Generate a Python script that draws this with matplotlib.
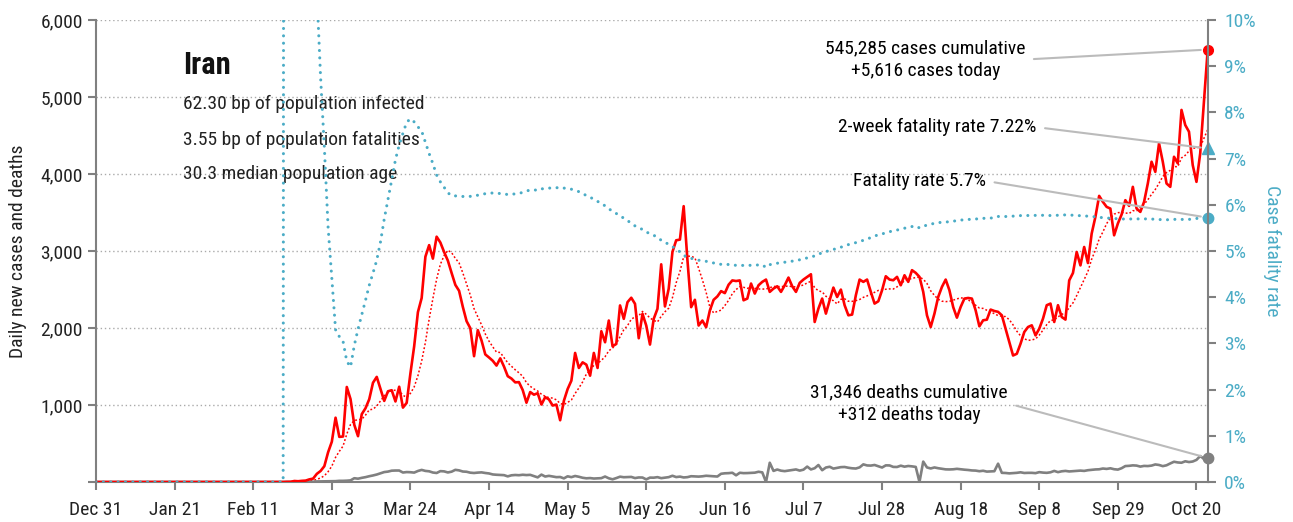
import numpy as np
import pandas as pd
import matplotlib
matplotlib.use("Agg")
import matplotlib.pyplot as plt
from matplotlib import font_manager

# daily values from Dec 31 2019 to Oct 23 2020
cases = [0] * 51 + [
    2, 3, 13, 10, 15, 18, 34, 44, 106, 143,
    205, 385, 523, 835, 586, 591, 1234, 1076, 743, 595,
    881, 958, 1075, 1289, 1365, 1209, 1053, 1178, 1192, 1046,
    1237, 966, 1028, 1411, 1762, 2206, 2389, 2926, 3076, 2901,
    3186, 3110, 2987, 2875, 2715, 2560, 2483, 2274, 2089, 1997,
    1634, 1972, 1837, 1657, 1617, 1574, 1512, 1606, 1499, 1374,
    1343, 1294, 1297, 1194, 1030, 1168, 1134, 1153, 1006, 1102,
    1073, 993, 1006, 802, 1055, 1207, 1316, 1676, 1481, 1554,
    1524, 1381, 1676, 1481, 1958, 1815, 2097, 1763, 1793, 2293,
    2119, 2336, 2393, 2314, 1867, 2184, 2032, 1785, 2119, 2249,
    2827, 2280, 2510, 2987, 3139, 3148, 3582, 2886, 2271, 2366,
    2032, 2097, 2010, 2228, 2366, 2410, 2479, 2453, 2562, 2618,
    2610, 2618, 2360, 2382, 2577, 2447, 2555, 2599, 2629, 2469,
    2512, 2542, 2469, 2555, 2655, 2542, 2469, 2586, 2629, 2664,
    2698, 2078, 2252, 2382, 2187, 2360, 2525, 2403, 2499, 2295,
    2165, 2174, 2425, 2629, 2599, 2629, 2469, 2317, 2347, 2490,
    2672, 2629, 2620, 2664, 2555, 2685, 2599, 2751, 2716, 2664,
    2469, 2165, 2013, 2187, 2403, 2534, 2629, 2490, 2273, 2134,
    2273, 2382, 2390, 2382, 2230, 2022, 2100, 2108, 2239, 2221,
    2210, 2165, 1991, 1817, 1643, 1665, 1796, 1948, 2013, 2035,
    1904, 1991, 2122, 2296, 2317, 2078, 2296, 2143, 2109, 2618,
    2714, 2987, 2813, 3052, 2844, 3226, 3443, 3716, 3638, 3573,
    3551, 3204, 3357, 3474, 3660, 3586, 3833, 3551, 3508, 3638,
    3877, 4159, 4028, 4398, 4159, 3877, 3833, 4224, 4138, 4832,
    4636, 4549, 4115, 3898, 4268, 4950, 5616,
]
deaths = [0] * 51 + [
    2, 0, 2, 1, 3, 4, 4, 3, 7, 8,
    9, 11, 12, 11, 15, 15, 17, 21, 49, 43,
    54, 63, 75, 85, 97, 113, 129, 135, 147, 149,
    149, 123, 129, 127, 122, 143, 157, 144, 139, 123,
    117, 141, 138, 124, 134, 158, 151, 136, 133, 121,
    117, 122, 125, 117, 111, 98, 94, 92, 89, 73,
    87, 91, 88, 94, 90, 93, 76, 60, 96, 71,
    80, 71, 63, 65, 47, 74, 63, 78, 68, 55,
    48, 51, 45, 48, 50, 71, 48, 35, 51, 69,
    62, 64, 66, 51, 59, 58, 34, 57, 56, 63,
    50, 57, 63, 81, 64, 70, 59, 63, 75, 72,
    70, 74, 81, 78, 75, 71, 107, 113, 115, 120,
    87, 120, 115, 116, 119, 121, 133, 125, 0, 250,
    144, 162, 147, 141, 148, 154, 163, 148, 160, 200,
    163, 179, 221, 153, 188, 198, 174, 183, 193, 195,
    185, 178, 175, 190, 229, 215, 213, 221, 205, 188,
    216, 215, 196, 195, 212, 199, 208, 203, 196, 0,
    265, 189, 176, 189, 179, 171, 164, 163, 165, 171,
    165, 160, 156, 150, 148, 140, 146, 135, 138, 140,
    238, 119, 117, 112, 115, 119, 126, 117, 119, 119,
    115, 128, 122, 119, 126, 144, 128, 139, 144, 137,
    141, 146, 148, 144, 153, 158, 163, 165, 175, 170,
    178, 166, 161, 179, 207, 210, 216, 213, 200, 209,
    207, 213, 228, 221, 206, 217, 241, 263, 254, 250,
    269, 259, 266, 287, 337, 300, 312,
]
two_week_rate = 7.22
dates = pd.date_range("2019-12-31", periods=len(cases), freq="D")

blue = "#4bacc6"
grey = "#808080"

avail = {f.name for f in font_manager.fontManager.ttflist}
fam = "DejaVu Sans"
for f in ["Roboto Condensed", "Liberation Sans Narrow"]:
    if f in avail:
        fam = f
        break
plt.rcParams["font.family"] = fam
plt.rcParams["font.size"] = 14

s_cases = pd.Series(cases, index=dates, dtype=float)
s_deaths = pd.Series(deaths, index=dates, dtype=float)
avg7 = s_cases.rolling(7, min_periods=1).mean()
cum_c = s_cases.cumsum()
cum_d = s_deaths.cumsum()
cfr = (cum_d / cum_c.replace(0, np.nan) * 100).fillna(0)

fig = plt.figure(figsize=(12.93, 5.22), dpi=100)
ax = fig.add_axes([0.07425, 0.07663, 0.85978, 0.88506])
ax2 = ax.twinx()

ax.plot(dates, avg7, color="red", lw=1.1, ls=(0, (1.2, 1.4)), zorder=3)
ax.plot(dates, s_deaths, color=grey, lw=1.9, zorder=3)
ax.plot(dates, s_cases, color="red", lw=1.9, zorder=4)
ax.plot(dates[-1], cases[-1], "o", color="red", ms=7, clip_on=False, zorder=5)
ax.plot(dates[-1], deaths[-1], "o", color=grey, ms=7.5, clip_on=False, zorder=5)

ax2.plot(dates, cfr, color=blue, lw=2.2, ls=(0, (0.01, 2.4)),
         dash_capstyle="round")
ax2.plot(dates[-1], cfr.iloc[-1], "o", color=blue, ms=7.5, clip_on=False)
ax2.plot(dates[-1], two_week_rate, "^", color=blue, ms=8.5, clip_on=False)

ax.set_xlim(dates[0], dates[-1])
ax.set_ylim(0, 6000)
ax2.set_ylim(0, 10)

ax.set_yticks(range(0, 6001, 1000))
ax.set_yticklabels([""] + [f"{v:,}" for v in range(1000, 6001, 1000)])
ax.yaxis.grid(True, color="#aaaaaa", ls=(0, (1, 2)), lw=1)
ax.set_axisbelow(True)

ticks = pd.date_range("2019-12-31", dates[-1], freq="21D")
ax.set_xticks(ticks)
ax.set_xticklabels([f"{d:%b} {d.day}" for d in ticks])

ax2.set_yticks(range(0, 11))
ax2.set_yticklabels([f"{v}%" for v in range(0, 11)])

for a in (ax, ax2):
    a.spines["top"].set_visible(False)
ax2.spines["left"].set_visible(False)
ax2.spines["bottom"].set_visible(False)
for sp in ("left", "bottom"):
    ax.spines[sp].set_color(grey)
    ax.spines[sp].set_linewidth(1.5)
ax.spines["right"].set_visible(False)
ax2.spines["right"].set_color(grey)
ax2.spines["right"].set_linewidth(1.5)

ax.tick_params(axis="both", color=grey, width=1.5, length=6, labelcolor="#222222")
ax.tick_params(axis="x", pad=8)
ax2.tick_params(axis="y", color=grey, width=1.5, length=6, labelcolor=blue, pad=6)

ax.set_ylabel("Daily new cases and deaths", labelpad=10, color="#222222")
ax2.set_ylabel("Case fatality rate", rotation=270, color=blue, labelpad=18)

# info block
ax.text(0.078, 0.903, "Iran", transform=ax.transAxes, fontsize=22,
        fontweight="bold", va="center", color="#111111")
info = ["62.30 bp of population infected",
        "3.55 bp of population fatalities",
        "30.3 median population age"]
for t, yy in zip(info, [0.818, 0.740, 0.667]):
    ax.text(0.078, yy, t, transform=ax.transAxes, va="center", color="#222222")

line = dict(arrowstyle="-", color="#bbbbbb", lw=1.5, shrinkA=4, shrinkB=5)
ax.annotate("545,285 cases cumulative\n+5,616 cases today",
            xy=(dates[-1], cases[-1]), xytext=(0.746, 0.9145),
            textcoords="axes fraction", ha="center", va="center",
            linespacing=1.35, arrowprops=dict(line, relpos=(1, 0.5)))
ax2.annotate("2-week fatality rate 7.22%",
             xy=(dates[-1], two_week_rate), xytext=(0.757, 0.768),
             textcoords="axes fraction", ha="center", va="center",
             arrowprops=dict(line, relpos=(1, 0.5)))
ax2.annotate("Fatality rate 5.7%",
             xy=(dates[-1], cfr.iloc[-1]), xytext=(0.741, 0.6515),
             textcoords="axes fraction", ha="center", va="center",
             arrowprops=dict(line, relpos=(1, 0.5)))
ax.annotate("31,346 deaths cumulative\n+312 deaths today",
            xy=(dates[-1], deaths[-1]), xytext=(0.7315, 0.170),
            textcoords="axes fraction", ha="center", va="center",
            linespacing=1.35, arrowprops=dict(line, relpos=(1, 0.5)))

fig.savefig("out.png", dpi=100)
